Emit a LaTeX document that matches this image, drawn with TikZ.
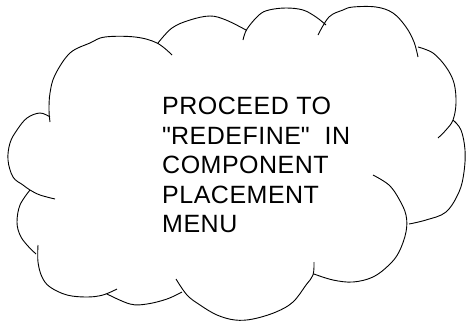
\documentclass[tikz,border=0pt]{standalone}
\usepackage{fontspec}
\setmainfont{Liberation Sans}[LetterSpace=2]
\usetikzlibrary{positioning}

\begin{document}
\begin{tikzpicture}[x=1pt,y=-1pt,
  cloudline/.style={line width=0.9pt,line join=round,smooth,tension=0.6},
  cloudtext/.style={anchor=north west,align=left,inner sep=0pt,
    font=\fontsize{25}{29.5}\selectfont}]
\useasboundingbox (0,0) rectangle (466,322);
\draw[cloudline]
plot coordinates {(50,117) (40,113) (27,118) (17,130) (10,143) (8,160) (13,177) (23,185) (30,190) (40,195) (55,199)}
plot coordinates {(50,122) (49,110) (50,93) (55,75) (70,53) (90,43) (105,37) (135,37) (157,43) (172,55)}
plot coordinates {(158,43) (172,28) (190,20) (210,16) (226,20) (246,30)}
plot coordinates {(243,40) (247,29) (259,15) (269,10) (286,8) (303,10) (316,17) (326,25)}
plot coordinates {(318,35) (329,17) (343,10) (353,7) (376,7) (393,13) (406,27) (414,42) (418,57)}
plot coordinates {(418,47) (433,53) (446,67) (454,83) (456,103) (453,120) (446,130) (438,138)}
plot coordinates {(453,120) (461,130) (465,150) (464,172) (459,192) (446,212) (426,220) (409,224)}
plot coordinates {(373,175) (389,185) (399,199) (406,215) (406,232) (399,252) (389,265) (373,277) (353,282) (333,280) (314,274)}
plot coordinates {(314,262) (313,275) (306,285) (293,302) (276,312) (253,319) (235,320) (217,315) (200,305) (187,295) (176,279)}
plot coordinates {(182,292) (167,299) (147,304) (130,304) (107,294)}
plot coordinates {(38,245) (38,262) (42,277) (50,287) (67,295) (87,297) (103,295) (117,289)}
plot coordinates {(30,190) (20,205) (17,222) (20,235) (27,245) (36,254)}
;
\node[cloudtext] (redefine) at (162,97) {PROCEED TO\\\textquotedbl REDEFINE\textquotedbl\ \ IN\\COMPONENT\\PLACEMENT\\MENU};
\end{tikzpicture}
\end{document}
